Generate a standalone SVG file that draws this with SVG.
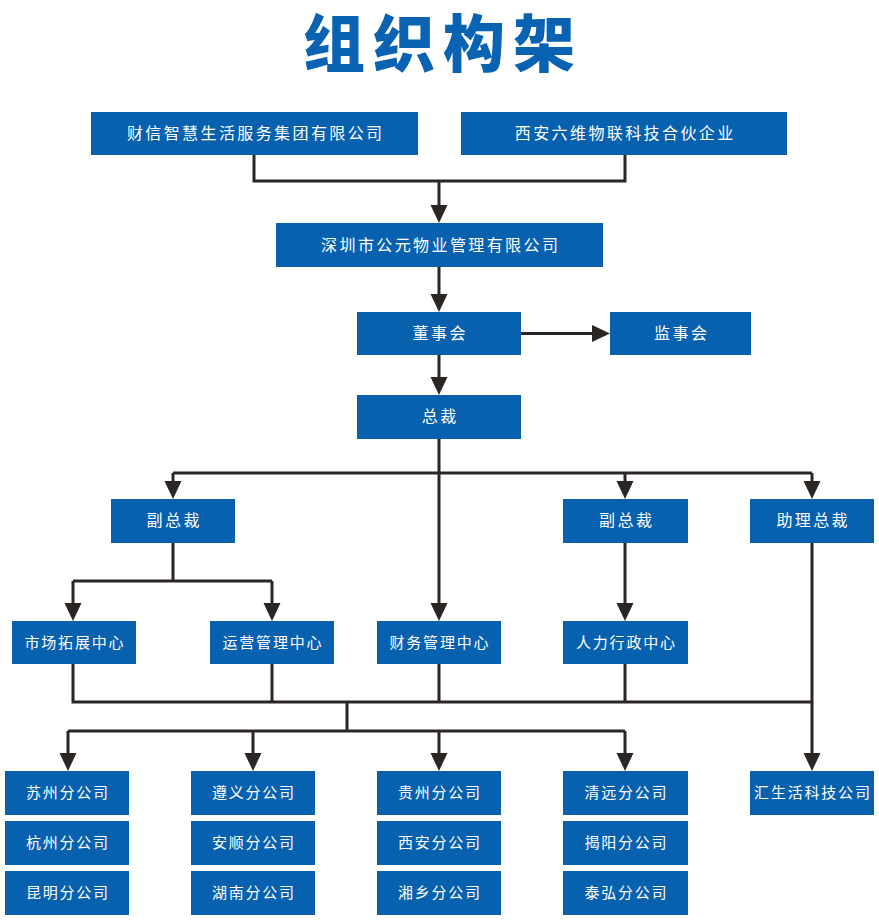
<svg xmlns="http://www.w3.org/2000/svg" width="879" height="924" viewBox="0 0 879 924">
<defs>
<style>
.box{fill:#0861ae;}
.t{fill:#ffffff;font-family:"Noto Sans CJK SC","Noto Sans",sans-serif;font-size:15px;letter-spacing:1.8px;text-anchor:middle;}
.tl{font-size:16px;letter-spacing:2.4px;}
.title{fill:#0a63b2;font-family:"Noto Sans CJK SC","Noto Sans",sans-serif;font-size:62px;font-weight:900;letter-spacing:8px;text-anchor:middle;}
.c{fill:none;stroke:#2b2624;stroke-width:3;stroke-linejoin:miter;}
.a{marker-end:url(#ah);}
</style>
<marker id="ah" markerUnits="userSpaceOnUse" markerWidth="18" markerHeight="18" viewBox="0 0 18 18" refX="14" refY="9" orient="auto">
<path d="M0,0.5 L18,9 L0,17.5 z" fill="#2b2624"/>
</marker>
</defs>
<rect width="879" height="924" fill="#ffffff"/>
<text class="title" x="443" y="67">组织构架</text>

<g id="connectors">
<path class="c" d="M254,155 V181 H625 V155"/>
<path class="c a" d="M439,181 V219"/>
<path class="c a" d="M439,267 V308"/>
<path class="c a" d="M521,333.5 H606"/>
<path class="c a" d="M439,355 V391"/>
<path class="c a" d="M439,439 V617"/>
<path class="c" d="M173,473 H812"/>
<path class="c a" d="M173,473 V495"/>
<path class="c a" d="M625,473 V495"/>
<path class="c a" d="M812,473 V495"/>
<path class="c" d="M173,543 V581"/>
<path class="c" d="M73,581 H272"/>
<path class="c a" d="M73,581 V617"/>
<path class="c a" d="M272,581 V617"/>
<path class="c a" d="M625,543 V617"/>
<path class="c" d="M73,664 V702 H812"/>
<path class="c" d="M272,664 V702"/>
<path class="c" d="M439,664 V702"/>
<path class="c" d="M625,664 V702"/>
<path class="c a" d="M812,543 V767"/>
<path class="c" d="M347,702 V731"/>
<path class="c" d="M68,731 H625"/>
<path class="c a" d="M68,731 V767"/>
<path class="c a" d="M253,731 V767"/>
<path class="c a" d="M439,731 V767"/>
<path class="c a" d="M625,731 V767"/>
</g>

<g id="n-caixin"><rect class="box" x="91" y="112" width="327" height="43"/><text class="t tl" x="255.7" y="139">财信智慧生活服务集团有限公司</text></g>
<g id="n-xian6"><rect class="box" x="461" y="112" width="326" height="43"/><text class="t tl" x="625.2" y="139">西安六维物联科技合伙企业</text></g>
<g id="n-gongyuan"><rect class="box" x="276" y="223" width="327" height="44"/><text class="t tl" x="440.7" y="251">深圳市公元物业管理有限公司</text></g>
<g id="n-dongshi"><rect class="box" x="357" y="312" width="164" height="43"/><text class="t tl" x="440.2" y="339">董事会</text></g>
<g id="n-jianshi"><rect class="box" x="610" y="312" width="141" height="43"/><text class="t tl" x="681.7" y="339">监事会</text></g>
<g id="n-zongcai"><rect class="box" x="357" y="395" width="164" height="44"/><text class="t tl" x="440.2" y="422">总裁</text></g>

<g id="n-fzc1"><rect class="box" x="111" y="499" width="124" height="44"/><text class="t tl" x="174.2" y="526">副总裁</text></g>
<g id="n-fzc2"><rect class="box" x="563" y="499" width="125" height="44"/><text class="t tl" x="626.7" y="526">副总裁</text></g>
<g id="n-zlzc"><rect class="box" x="750" y="499" width="124" height="44"/><text class="t tl" x="813.2" y="526">助理总裁</text></g>

<g id="n-scztzx"><rect class="box" x="12" y="621" width="124" height="43"/><text class="t" x="74.9" y="648">市场拓展中心</text></g>
<g id="n-yyglzx"><rect class="box" x="210" y="621" width="124" height="43"/><text class="t" x="272.9" y="648">运营管理中心</text></g>
<g id="n-cwglzx"><rect class="box" x="377" y="621" width="124" height="43"/><text class="t" x="439.9" y="648">财务管理中心</text></g>
<g id="n-rlxzzx"><rect class="box" x="563" y="621" width="125" height="43"/><text class="t" x="626.4" y="648">人力行政中心</text></g>

<g id="n-suzhou"><rect class="box" x="5" y="771" width="124" height="44"/><text class="t" x="67.9" y="798">苏州分公司</text></g>
<g id="n-hangzhou"><rect class="box" x="5" y="821" width="124" height="44"/><text class="t" x="67.9" y="848">杭州分公司</text></g>
<g id="n-kunming"><rect class="box" x="5" y="871" width="124" height="44"/><text class="t" x="67.9" y="898">昆明分公司</text></g>

<g id="n-zunyi"><rect class="box" x="191" y="771" width="124" height="44"/><text class="t" x="253.9" y="798">遵义分公司</text></g>
<g id="n-anshun"><rect class="box" x="191" y="821" width="124" height="44"/><text class="t" x="253.9" y="848">安顺分公司</text></g>
<g id="n-hunan"><rect class="box" x="191" y="871" width="124" height="44"/><text class="t" x="253.9" y="898">湖南分公司</text></g>

<g id="n-guizhou"><rect class="box" x="377" y="771" width="124" height="44"/><text class="t" x="439.9" y="798">贵州分公司</text></g>
<g id="n-xian"><rect class="box" x="377" y="821" width="124" height="44"/><text class="t" x="439.9" y="848">西安分公司</text></g>
<g id="n-xiangxiang"><rect class="box" x="377" y="871" width="124" height="44"/><text class="t" x="439.9" y="898">湘乡分公司</text></g>

<g id="n-qingyuan"><rect class="box" x="563" y="771" width="125" height="44"/><text class="t" x="626.4" y="798">清远分公司</text></g>
<g id="n-jieyang"><rect class="box" x="563" y="821" width="125" height="44"/><text class="t" x="626.4" y="848">揭阳分公司</text></g>
<g id="n-taihong"><rect class="box" x="563" y="871" width="125" height="44"/><text class="t" x="626.4" y="898">泰弘分公司</text></g>

<g id="n-huishenghuo"><rect class="box" x="750" y="771" width="124" height="44"/><text class="t" x="812.9" y="798">汇生活科技公司</text></g>
</svg>
